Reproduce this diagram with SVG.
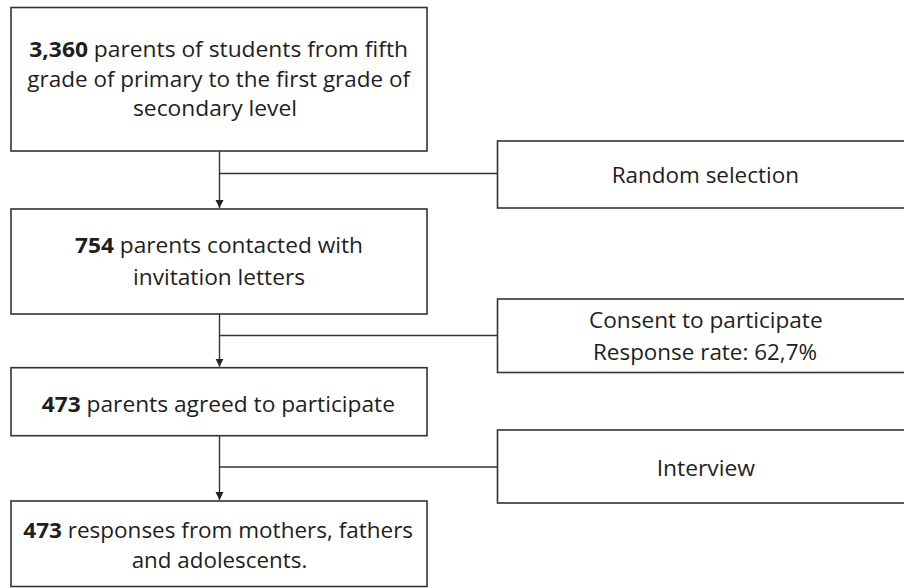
<svg xmlns="http://www.w3.org/2000/svg" width="904" height="588" viewBox="0 0 904 588">
<style>
.box{fill:#fff;stroke:#333;stroke-width:1.6}
.t{font-family:"Open Sans","Noto Sans",sans-serif;font-size:21.5px;fill:#1e1e1e;text-anchor:middle}
.b{font-weight:bold}
.c{fill:none;stroke:#333;stroke-width:1.4}
</style>
<defs>
<marker id="arr" markerUnits="userSpaceOnUse" markerWidth="10" markerHeight="10" viewBox="0 0 10 10" refX="8" refY="5" orient="auto">
<path d="M0,1 L8,5 L0,9 Z" fill="#222"/>
</marker>
</defs>
<rect width="904" height="588" fill="#fff"/>
<g id="connectors">
<line class="c" x1="219.5" y1="151" x2="219.5" y2="208" marker-end="url(#arr)"/>
<line class="c" x1="219.5" y1="173.5" x2="497.5" y2="173.5"/>
<line class="c" x1="219.5" y1="314" x2="219.5" y2="366.7" marker-end="url(#arr)"/>
<line class="c" x1="219.5" y1="335.5" x2="497.5" y2="335.5"/>
<line class="c" x1="219.5" y1="435.7" x2="219.5" y2="500" marker-end="url(#arr)"/>
<line class="c" x1="219.5" y1="467" x2="497.5" y2="467"/>
</g>
<g id="n1">
<rect class="box" x="11" y="7.5" width="416" height="143.5"/>
<text class="t" x="218.7" y="57" textLength="378.7" lengthAdjust="spacingAndGlyphs"><tspan class="b">3,360</tspan> parents of students from fifth</text>
<text class="t" x="218.7" y="86.5" textLength="382.7" lengthAdjust="spacingAndGlyphs">grade of primary to the first grade of</text>
<text class="t" x="215" y="116" textLength="164" lengthAdjust="spacingAndGlyphs">secondary level</text>
</g>
<g id="n2">
<rect class="box" x="11" y="209" width="416" height="105"/>
<text class="t" x="219" y="253.3" textLength="288" lengthAdjust="spacingAndGlyphs"><tspan class="b">754</tspan> parents contacted with</text>
<text class="t" x="219" y="284.5" textLength="172" lengthAdjust="spacingAndGlyphs">invitation letters</text>
</g>
<g id="n3">
<rect class="box" x="11" y="367.7" width="416" height="68"/>
<text class="t" x="218.3" y="411.7" textLength="353.3" lengthAdjust="spacingAndGlyphs"><tspan class="b">473</tspan> parents agreed to participate</text>
</g>
<g id="n4">
<rect class="box" x="11" y="501" width="416" height="85.5"/>
<text class="t" x="218.2" y="538.3" textLength="389.7" lengthAdjust="spacingAndGlyphs"><tspan class="b">473</tspan> responses from mothers, fathers</text>
<text class="t" x="219.5" y="568" textLength="175.6" lengthAdjust="spacingAndGlyphs">and adolescents.</text>
</g>
<g id="s1">
<rect class="box" x="497.5" y="141" width="416" height="67"/>
<text class="t" x="705.3" y="183.3" textLength="187.3" lengthAdjust="spacingAndGlyphs">Random selection</text>
</g>
<g id="s2">
<rect class="box" x="497.5" y="299" width="416" height="73.5"/>
<text class="t" x="705.8" y="328.3" textLength="233.7" lengthAdjust="spacingAndGlyphs">Consent to participate</text>
<text class="t" x="705" y="360" textLength="224" lengthAdjust="spacingAndGlyphs">Response rate: 62,7%</text>
</g>
<g id="s3">
<rect class="box" x="497.5" y="430" width="416" height="73"/>
<text class="t" x="705.8" y="476" textLength="98.3" lengthAdjust="spacingAndGlyphs">Interview</text>
</g>
</svg>
